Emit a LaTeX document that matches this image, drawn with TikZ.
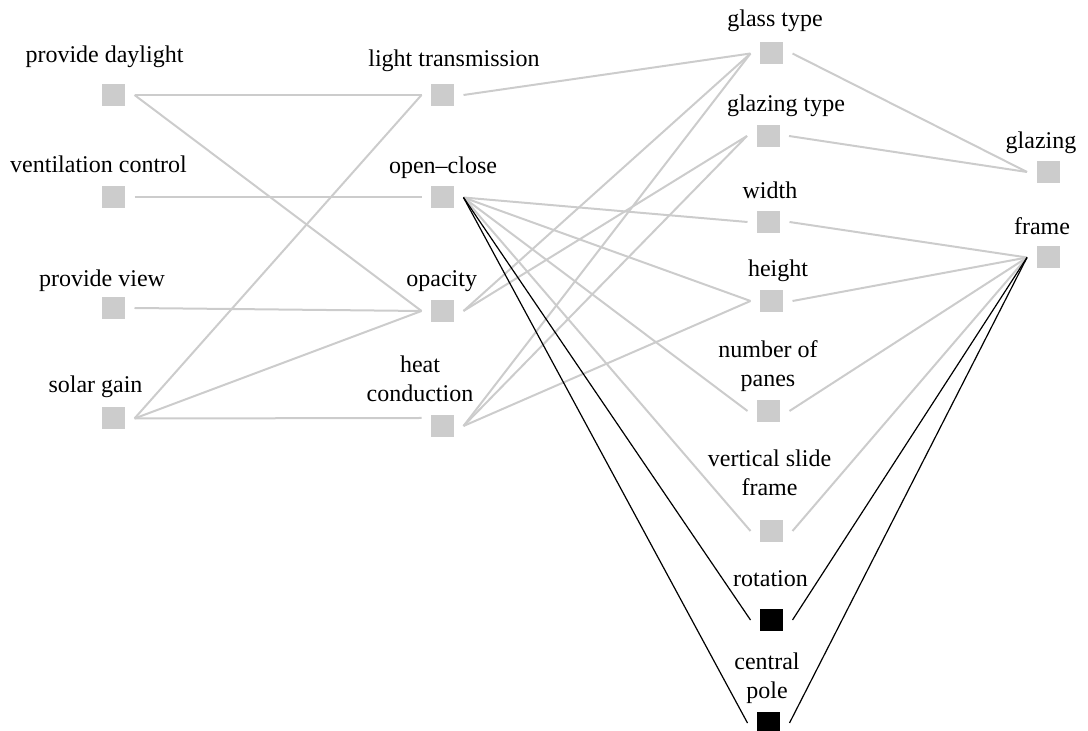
\documentclass[tikz,border=0pt]{standalone}
\usepackage{fontspec}
\setmainfont{Liberation Serif}
\usetikzlibrary{positioning}

\begin{document}
\begin{tikzpicture}[
  x=0.5pt, y=-0.5pt,
  font=\fontsize{12}{14.5}\selectfont,
  sq/.style={rectangle, fill=black!20, minimum width=11.5pt, minimum height=11pt, inner sep=0pt, outer xsep=4.75pt, outer ysep=0pt},
  sqon/.style={sq, fill=black},
  lab/.style={anchor=base, inner sep=0pt, align=center},
  link/.style={draw=black!20, line width=1pt},
  hard/.style={draw=black, line width=0.6pt}
]
\useasboundingbox (0,0) rectangle (1088,731);

% functions
\node[sq] (pd) at (113.5,95) {};
\node[sq] (vc) at (113.5,197.5) {};
\node[sq] (pv) at (113.5,308) {};
\node[sq] (sg) at (113.5,418.5) {};
\node[lab] (pd-l) at (104.5,63) {provide daylight};
\node[lab] (vc-l) at (98.5,173) {ventilation control};
\node[lab] (pv-l) at (102,287) {provide view};
\node[lab] (sg-l) at (95.5,393) {solar gain};

% properties
\node[sq] (lt) at (442.5,95) {};
\node[sq] (oc) at (442.5,197.5) {};
\node[sq] (op) at (442.5,311) {};
\node[sq] (hc) at (442.5,426) {};
\node[lab] (lt-l) at (454,67) {light transmission};
\node[lab] (oc-l) at (443,174) {open--close};
\node[lab] (op-l) at (441.7,287) {opacity};
\node[lab] (hc-l) at (420,402) {heat\\conduction};

% design variables
\node[sq] (gt) at (771.5,53.5) {};
\node[sq] (gz) at (768,136) {};
\node[sq] (wd) at (768.5,222) {};
\node[sq] (ht) at (771.5,301) {};
\node[sq] (np) at (768.5,411) {};
\node[sq] (vs) at (771.5,531) {};
\node[sqon] (ro) at (771.5,620) {};
\node[sqon] (cp) at (768.5,723) {};
\node[lab] (gt-l) at (775,27) {glass type};
\node[lab] (gz-l) at (786,112) {glazing type};
\node[lab] (wd-l) at (770,199) {width};
\node[lab] (ht-l) at (778,277) {height};
\node[lab] (np-l) at (768,387) {number of\\panes};
\node[lab] (vs-l) at (769.5,496) {vertical slide\\frame};
\node[lab] (ro-l) at (770.5,587) {rotation};
\node[lab] (cp-l) at (767,699) {central\\pole};

% components
\node[sq] (gl) at (1048,172) {};
\node[sq] (fr) at (1048,257.5) {};
\node[lab] (gl-l) at (1041,149) {glazing};
\node[lab] (fr-l) at (1042,235) {frame};

\draw[link] (pd.east) -- (lt.west);
\draw[link] (pd.east) -- (op.west);
\draw[link] (vc.east) -- (oc.west);
\draw[link] (pv.east) -- (op.west);
\draw[link] (sg.east) -- (lt.west);
\draw[link] (sg.east) -- (op.west);
\draw[link] (sg.east) -- ([yshift=4pt]hc.west);

\draw[link] (lt.east) -- (gt.west);
\draw[link] (oc.east) -- (wd.west);
\draw[link] (oc.east) -- (ht.west);
\draw[link] (oc.east) -- (np.west);
\draw[link] (oc.east) -- (vs.west);
\draw[link] (op.east) -- (gt.west);
\draw[link] (op.east) -- (gz.west);
\draw[link] (hc.east) -- (gt.west);
\draw[link] (hc.east) -- (gz.west);
\draw[link] (hc.east) -- (ht.west);
\draw[hard] (oc.east) -- (ro.west);
\draw[hard] (oc.east) -- (cp.west);

\draw[link] (gt.east) -- (gl.west);
\draw[link] (gz.east) -- (gl.west);
\draw[link] (wd.east) -- (fr.west);
\draw[link] (ht.east) -- (fr.west);
\draw[link] (np.east) -- (fr.west);
\draw[link] (vs.east) -- (fr.west);
\draw[hard] (ro.east) -- (fr.west);
\draw[hard] (cp.east) -- (fr.west);

\end{tikzpicture}
\end{document}
